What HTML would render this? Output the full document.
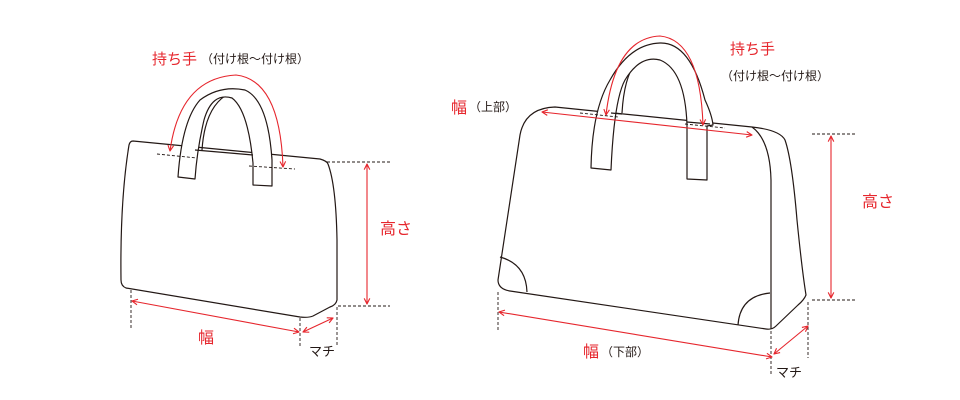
<!DOCTYPE html>
<html><head><meta charset="utf-8"><style>
html,body{margin:0;padding:0;background:#fff;}
svg{display:block}
text{font-family:"Liberation Sans","Noto Sans CJK JP",sans-serif;}
.r{fill:#e6262d}
.k{fill:#231815}
</style></head><body>
<svg width="960" height="400" viewBox="0 0 960 400" xmlns="http://www.w3.org/2000/svg">
<defs>
<marker id="a" viewBox="0 0 10 10" refX="9" refY="5" markerWidth="7" markerHeight="7" orient="auto-start-reverse" markerUnits="userSpaceOnUse">
<path d="M1,1 L9,5 L1,9" fill="none" stroke="#e6262d" stroke-width="1.6"/>
</marker>
</defs>
<g fill="none" stroke="#231815" stroke-width="1.2" stroke-linejoin="round">
<path d="M133,141 L320,159 Q327,161 328,164 Q336,185 337,240 L337,300 Q336,305 330,307 L313,316 Q308,318 300,317 L126,288 Q121,286 121,280 Q120,200 129,145 Q130,141 133,141 Z" fill="#fff"/>
<path d="M202,150 Q205,105 230,93 Q258,88 268,130 L272,160"/>
<path d="M178,177 Q182,120 200,100 Q220,85 245,90 Q268,100 272,160 L272,186 L253,185 L253,163 Q248,110 232,98 Q212,92 204,120 Q197,150 195,179 Z" fill="#fff"/>
<path d="M195,150 L253,155"/>
<path d="M555,107 L752,127 Q780,130 785,140 Q792,160 797,220 Q802,270 806,295 Q804,300 798,305 L776,326 Q772,330 766,329 L510,291 Q498,289 498,280 L520,135 Q525,108 555,107 Z" fill="#fff"/>
<path d="M752,127 Q770,140 771,180 L771,329"/>
<path d="M500,257 Q526,264 527,292"/>
<path d="M738,325 Q740,296 770,293"/>
<path d="M622,113 Q625,60 650,52 Q685,45 690,120"/>
<path d="M591,168 Q592,110 610,80 Q630,44 660,43 Q690,42 705,100 Q712,115 713,125 L707,126 L707,180 L687,179 L687,125 Q685,70 660,60 Q640,55 625,80 Q614,100 611,170 Z" fill="#fff"/>
<path d="M611,113 L622,114"/>
<path d="M687,122 L710,124"/>
</g>
<g fill="none" stroke="#231815" stroke-width="0.9" stroke-dasharray="3,2">
<path d="M157,154 L197,158"/><path d="M249,166 L295,169"/>
<path d="M327,162 L390,162"/><path d="M338,306 L390,306"/>
<path d="M131,290 L131,328"/><path d="M300,318 L300,346"/><path d="M337,307 L337,346"/>
<path d="M580,113 L618,117"/><path d="M685,124 L725,128"/>
<path d="M812,134 L855,134"/><path d="M812,300 L855,300"/>
<path d="M498,292 L498,331"/><path d="M771,331 L771,376"/><path d="M808,302 L808,358"/>
</g>
<g fill="none" stroke="#e6262d" stroke-width="1.1">
<path d="M170,151 Q180,78 236,75 Q280,80 283,167" marker-start="url(#a)" marker-end="url(#a)"/>
<path d="M367,164 L367,304" marker-start="url(#a)" marker-end="url(#a)"/>
<path d="M132,301 L299,332" marker-start="url(#a)" marker-end="url(#a)"/>
<path d="M303,332 L333,318" marker-start="url(#a)" marker-end="url(#a)"/>
<path d="M606,115 Q615,38 660,36 Q700,40 703,125" marker-start="url(#a)" marker-end="url(#a)"/>
<path d="M542,112 L752,135" marker-start="url(#a)" marker-end="url(#a)"/>
<path d="M831,136 L831,298" marker-start="url(#a)" marker-end="url(#a)"/>
<path d="M499,312 L772,357" marker-start="url(#a)" marker-end="url(#a)"/>
<path d="M774,354 L808,326" marker-start="url(#a)" marker-end="url(#a)"/>
</g>
<text x="152" y="64" font-size="15" class="r">持ち手</text>
<text x="201" y="63" font-size="12" class="k">（付け根〜付け根）</text>
<text x="380" y="234" font-size="16" class="r">高さ</text>
<text x="198" y="343" font-size="16" class="r">幅</text>
<text x="309" y="356" font-size="13" class="k">マチ</text>
<text x="730" y="54" font-size="15" class="r">持ち手</text>
<text x="721" y="80" font-size="12" class="k">（付け根〜付け根）</text>
<text x="451" y="113" font-size="16" class="r">幅</text>
<text x="469" y="111" font-size="12" class="k">（上部）</text>
<text x="862" y="207" font-size="16" class="r">高さ</text>
<text x="583" y="357" font-size="16" class="r">幅</text>
<text x="601" y="356" font-size="12" class="k">（下部）</text>
<text x="776" y="377" font-size="13" class="k">マチ</text>
</svg>
</body></html>
